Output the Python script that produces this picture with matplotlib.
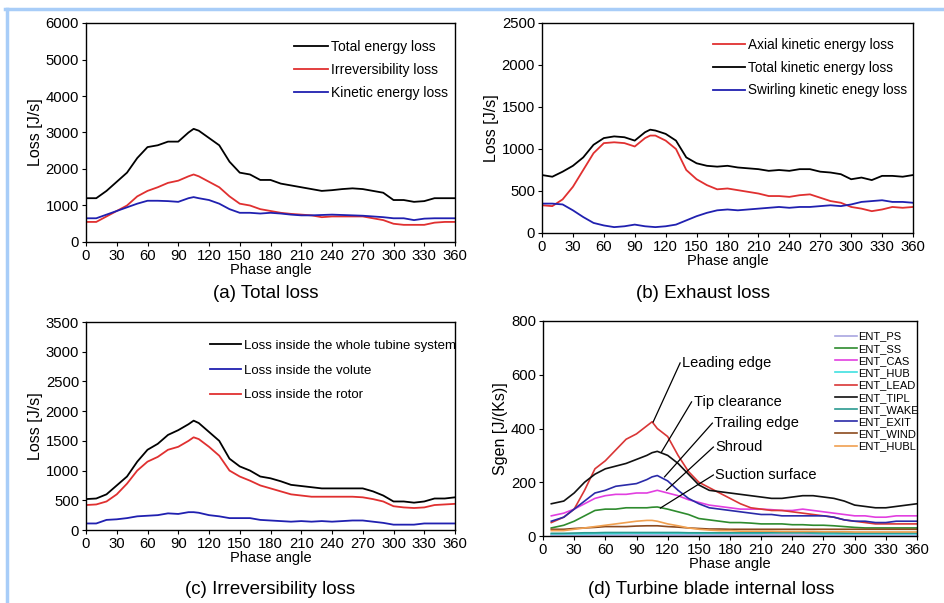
import matplotlib.pyplot as plt
from matplotlib.lines import Line2D

plt.rcParams['font.family'] = ['Liberation Sans', 'DejaVu Sans']

# ---- data ----
ang = [0, 10, 20, 30, 40, 50, 60, 70, 80, 90, 100, 105, 110, 120, 130, 140, 150, 160, 170, 180,
       190, 200, 210, 220, 230, 240, 250, 260, 270, 280, 290, 300, 310, 320, 330, 340, 350, 360]

# (a) total loss
a_total = [1200, 1200, 1400, 1650, 1900, 2300, 2600, 2650, 2750, 2750, 3000, 3100, 3050, 2850, 2650, 2200,
           1900, 1850, 1700, 1700, 1600, 1550, 1500, 1450, 1400, 1420, 1450, 1470, 1450, 1400, 1350, 1150,
           1150, 1100, 1120, 1200, 1200, 1200]
a_irrev = [550, 550, 700, 850, 1000, 1250, 1400, 1500, 1620, 1680, 1800, 1850, 1800, 1650, 1500, 1250,
           1050, 1000, 900, 850, 800, 770, 750, 730, 680, 700, 700, 700, 700, 650, 600, 500,
           470, 470, 470, 530, 550, 550]
a_kin = [650, 650, 750, 850, 950, 1050, 1130, 1130, 1120, 1100, 1200, 1230, 1200, 1150, 1050, 900,
         800, 800, 780, 800, 780, 750, 730, 730, 740, 750, 740, 730, 720, 700, 680, 650,
         650, 600, 640, 650, 650, 650]

# (b) exhaust loss
b_axial = [330, 320, 400, 550, 750, 950, 1070, 1080, 1070, 1030, 1130, 1160, 1160, 1100, 1000, 750,
           640, 570, 520, 530, 510, 490, 470, 440, 440, 430, 450, 460, 420, 380, 360, 310,
           290, 260, 280, 310, 300, 310]
b_total = [690, 670, 730, 800, 900, 1050, 1130, 1150, 1140, 1100, 1200, 1230, 1220, 1180, 1100, 900,
           830, 800, 790, 800, 780, 770, 760, 740, 750, 740, 760, 760, 730, 720, 700, 640,
           660, 630, 680, 680, 670, 690]
b_swirl = [350, 350, 340, 270, 190, 120, 90, 70, 80, 100, 80, 75, 70, 80, 100, 150,
           200, 240, 270, 280, 270, 280, 290, 300, 310, 300, 310, 310, 320, 330, 320, 340,
           370, 380, 390, 370, 370, 360]

# (c) irreversibility loss
c_whole = [520, 530, 600, 750, 900, 1150, 1350, 1450, 1600, 1680, 1780, 1840, 1800, 1650, 1500, 1200,
           1070, 1000, 900, 870, 820, 760, 740, 720, 700, 700, 700, 700, 700, 650, 580, 480,
           480, 460, 480, 530, 530, 550]
c_volute = [110, 110, 170, 180, 200, 230, 240, 250, 280, 270, 300, 300, 290, 250, 230, 200,
            200, 200, 170, 160, 150, 140, 150, 140, 150, 140, 150, 160, 160, 140, 120, 90,
            90, 90, 110, 110, 110, 110]
c_rotor = [420, 430, 480, 600, 780, 1000, 1150, 1230, 1350, 1400, 1500, 1560, 1530, 1400, 1250, 1000,
           900, 830, 750, 700, 650, 600, 580, 560, 560, 560, 560, 560, 550, 520, 480, 400,
           380, 370, 380, 420, 430, 440]

# (d) turbine blade internal loss
ang_d = [8, 20, 30, 40, 50, 60, 70, 80, 90, 100, 105, 110, 120, 130, 140, 150, 160, 170, 180,
         190, 200, 210, 220, 230, 240, 250, 260, 270, 280, 290, 300, 310, 320, 330, 340, 350, 360]
d_ps = [3] * 37
d_ss = [30, 40, 55, 75, 95, 100, 100, 105, 105, 105, 107, 108, 100, 90, 80, 65, 60, 55, 50,
        50, 48, 45, 45, 45, 42, 42, 40, 40, 38, 35, 32, 30, 30, 30, 30, 30, 30]
d_cas = [75, 85, 100, 120, 140, 150, 155, 155, 160, 160, 165, 170, 160, 150, 135, 125, 115, 110, 105,
         100, 100, 100, 98, 95, 95, 100, 95, 90, 85, 80, 75, 75, 70, 70, 75, 75, 75]
d_hub = [8, 8, 8, 8, 9, 9, 9, 10, 10, 10, 10, 10, 10, 10, 10, 10, 10, 10, 10,
         10, 10, 10, 12, 12, 12, 12, 10, 8, 8, 8, 8, 8, 8, 8, 8, 8, 8]
d_lead = [50, 70, 100, 170, 250, 280, 320, 360, 380, 410, 425, 400, 370, 300, 240, 200, 180, 160, 140,
          120, 105, 100, 95, 95, 90, 85, 80, 75, 70, 60, 55, 50, 45, 45, 45, 45, 45]
d_tipl = [120, 130, 160, 200, 230, 250, 260, 270, 285, 300, 310, 315, 300, 270, 230, 190, 170, 165, 160,
          155, 150, 145, 140, 140, 145, 150, 150, 145, 140, 130, 115, 110, 105, 105, 110, 115, 120]
d_wake = [10, 10, 11, 12, 12, 13, 13, 13, 13, 13, 13, 13, 13, 13, 12, 12, 12, 12, 12,
          12, 12, 12, 12, 12, 12, 12, 12, 12, 12, 11, 11, 11, 11, 11, 11, 11, 11]
d_exit = [55, 70, 100, 130, 160, 170, 185, 190, 195, 210, 220, 225, 205, 170, 140, 120, 105, 100, 95,
          90, 85, 80, 80, 75, 75, 75, 75, 75, 70, 60, 55, 55, 50, 50, 55, 55, 55]
d_wind = [25, 25, 28, 30, 32, 35, 35, 35, 37, 38, 38, 38, 35, 33, 30, 28, 26, 26, 25,
          25, 25, 25, 25, 25, 25, 25, 25, 25, 25, 25, 25, 25, 25, 25, 25, 25, 25]
d_hubl = [20, 20, 25, 30, 35, 40, 45, 50, 55, 58, 58, 55, 45, 38, 30, 25, 22, 20, 20,
          18, 18, 18, 18, 17, 17, 17, 17, 16, 16, 16, 15, 15, 15, 15, 15, 15, 15]

d_names = ['ENT_PS', 'ENT_SS', 'ENT_CAS', 'ENT_HUB', 'ENT_LEAD', 'ENT_TIPL',
           'ENT_WAKE', 'ENT_EXIT', 'ENT_WIND', 'ENT_HUBL']
d_series = [d_ps, d_ss, d_cas, d_hub, d_lead, d_tipl, d_wake, d_exit, d_wind, d_hubl]
d_colors = ['#a9a6e0', '#2e8b2e', '#e23fe0', '#3fe0e0', '#d93636', '#111111',
            '#2a9a90', '#2a2aa8', '#8b4a1e', '#f0a050']

annots = [('Leading edge', 106, 424, 132, 644),
          ('Tip clearance', 114, 312, 143, 499),
          ('Trailing edge', 117, 220, 163, 420),
          ('Shroud', 119, 171, 164, 331),
          ('Suction surface', 113, 104, 164, 227)]

W, H = 944, 603
fig = plt.figure(figsize=(9.44, 6.03), dpi=100)


def make_ax(l, r, t, b):
    return fig.add_axes([l / W, 1 - b / H, (r - l) / W, (b - t) / H])


def style(ax, ymax, ystep, ylabel):
    ax.set_xlim(0, 360)
    ax.set_ylim(0, ymax)
    ax.set_xticks(range(0, 361, 30))
    ax.set_yticks(range(0, ymax + 1, ystep))
    ax.tick_params(labelsize=10.7, length=3, width=0.8, pad=2)
    ax.set_xlabel('Phase angle', fontsize=10.5, labelpad=0)
    ax.set_ylabel(ylabel, fontsize=11.5, labelpad=2)
    for s in ax.spines.values():
        s.set_linewidth(1.0)


lw = 1.3
leg_kw = dict(frameon=False, handlelength=2.4, handletextpad=0.2,
              borderpad=0, borderaxespad=0, loc='upper left')

# (a)
ax = make_ax(86, 455, 23, 242)
ax.plot(ang, a_total, color='black', lw=lw, label='Total energy loss')
ax.plot(ang, a_irrev, color='#e03030', lw=lw, label='Irreversibility loss')
ax.plot(ang, a_kin, color='#2020b0', lw=lw, label='Kinetic energy loss')
style(ax, 6000, 1000, 'Loss [J/s]')
ax.legend(bbox_to_anchor=(0.565, 0.921), fontsize=10, labelspacing=0.65, **leg_kw)
fig.text(266 / W, 1 - 294 / H, '(a) Total loss', ha='center', va='center', fontsize=13.5)

# (b)
ax = make_ax(542, 913, 23, 233)
ax.plot(ang, b_axial, color='#e03030', lw=lw, label='Axial kinetic energy loss')
ax.plot(ang, b_total, color='black', lw=lw, label='Total kinetic energy loss')
ax.plot(ang, b_swirl, color='#2020b0', lw=lw, label='Swirling kinetic enegy loss')
style(ax, 2500, 500, 'Loss [J/s]')
ax.legend(bbox_to_anchor=(0.46, 0.93), fontsize=9.8, labelspacing=0.65, **leg_kw)
fig.text(703 / W, 1 - 293 / H, '(b) Exhaust loss', ha='center', va='center', fontsize=13.5)

# (c)
ax = make_ax(86, 455, 322, 530)
ax.plot(ang, c_whole, color='black', lw=lw, label='Loss inside the whole tubine system')
ax.plot(ang, c_volute, color='#2020b0', lw=lw, label='Loss inside the volute')
ax.plot(ang, c_rotor, color='#e03030', lw=lw, label='Loss inside the rotor')
style(ax, 3500, 500, 'Loss [J/s]')
ax.legend(bbox_to_anchor=(0.335, 0.915), fontsize=9.5, labelspacing=0.95, **leg_kw)
fig.text(270 / W, 1 - 589 / H, '(c) Irreversibility loss', ha='center', va='center', fontsize=13.5)

# (d)
ax = make_ax(543, 917, 321, 536)
for name, ys, c in zip(d_names, d_series, d_colors):
    ax.plot(ang_d, ys, color=c, lw=1.2, label=name)
style(ax, 800, 200, 'Sgen [J/(Ks)]')
ax.legend(bbox_to_anchor=(0.78, 0.951), frameon=False, handlelength=2.0,
          handletextpad=0.1, labelspacing=0.2, borderpad=0, borderaxespad=0, loc='upper left',
          prop={'family': ['Liberation Sans Narrow', 'Liberation Sans'], 'size': 8})
for txt, x0, y0, x1, y1 in annots:
    ax.plot([x0, x1], [y0, y1], color='black', lw=0.9)
    ax.text(x1 + 2, y1, txt, fontsize=10.5, ha='left', va='center')
fig.text(711 / W, 1 - 589 / H, '(d) Turbine blade internal loss', ha='center', va='center', fontsize=13.5)

# light blue frame at top and left
fig.add_artist(Line2D([5 / W, 1], [1 - 8.5 / H, 1 - 8.5 / H], color='#a8cdf8', lw=2.5))
fig.add_artist(Line2D([6.5 / W, 6.5 / W], [0, 1 - 8.5 / H], color='#a8cdf8', lw=2.5))

fig.savefig('out.png', dpi=100)
